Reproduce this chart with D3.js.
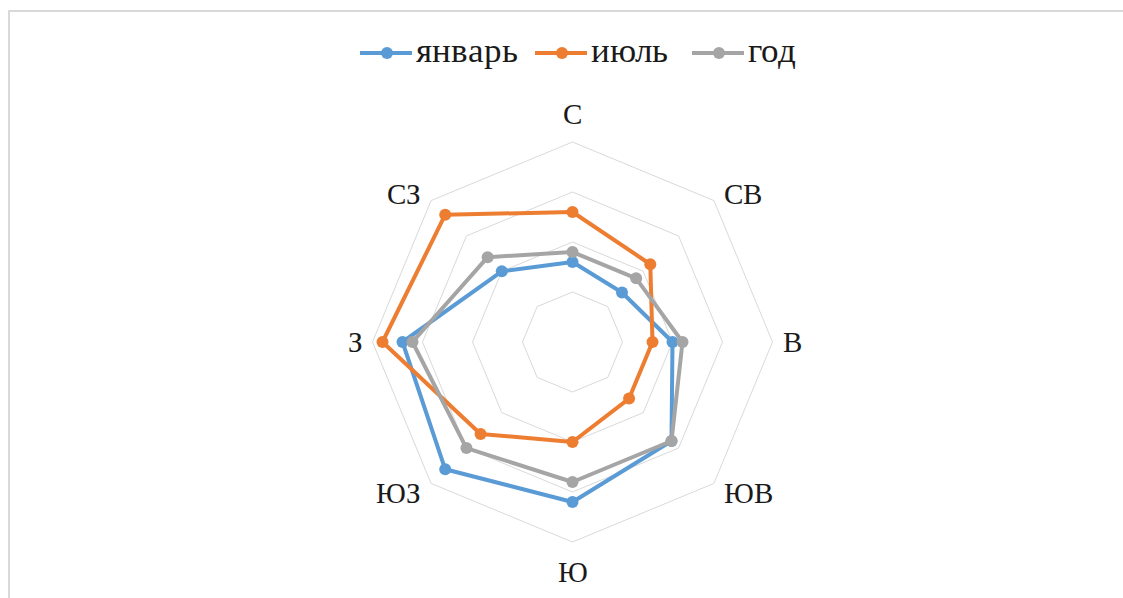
<!DOCTYPE html>
<html>
<head>
<meta charset="utf-8">
<script src="https://cdn.jsdelivr.net/npm/d3@7"></script>
<style>
  @font-face {
    font-family: "WindSerif";
    src: local("Liberation Serif"), local("LiberationSerif"), local("LiberationSerif-Regular"), local("Tinos"), local("Times New Roman");
  }
  html, body { margin: 0; padding: 0; background: #fff; }
  svg { display: block; }
  .lbl { font-family: "WindSerif", "Liberation Serif", Tinos, "Times New Roman", serif !important; }
</style>
</head>
<body>
<svg id="windrose" width="1123" height="598"></svg>
<script>
// Wind directions (clockwise from north)
const directions = ["С", "СВ", "В", "ЮВ", "Ю", "ЮЗ", "З", "СЗ"];
// Frequency of wind directions, %
const january = [8, 7, 10, 14, 16, 18, 17, 10];
const july    = [13, 11, 8, 8, 10, 13, 19, 18];
const year    = [9, 9, 11, 14, 14, 15, 16, 12];
const seriesNames = ["январь", "июль", "год"];
const seriesColors = ["#5B9BD5", "#ED7D31", "#A5A5A5"];
const gridTicks = [5, 10, 15, 20];

const W = 1123, H = 598;
const cx = 572.5, cy = 342;
const R = 200;
const FONT = "WindSerif, 'Liberation Serif', Tinos, 'Times New Roman', serif";

const svg = d3.select("#windrose");

// Chart area frame
svg.append("rect")
  .attr("x", 9).attr("y", 11)
  .attr("width", W + 10).attr("height", H + 10)
  .attr("fill", "none")
  .attr("stroke", "#d9d9d9")
  .attr("stroke-width", 2);

const r = d3.scaleLinear().domain([0, 20]).range([0, R]);
const angle = d3.scalePoint().domain(directions).range([0, 2 * Math.PI * (directions.length - 1) / directions.length]);

const g = svg.append("g").attr("transform", `translate(${cx},${cy})`);

// Octagonal grid rings
const ringLine = d3.lineRadial().angle(d => angle(d.dir)).radius(d => r(d.v)).curve(d3.curveLinearClosed);
g.append("g").selectAll("path")
  .data(gridTicks)
  .join("path")
  .attr("d", t => ringLine(directions.map(dir => ({ dir, v: t }))))
  .attr("fill", "none")
  .attr("stroke", "#d9d9d9")
  .attr("stroke-width", 1);

// Direction labels, placed just outside the outer ring vertices
function labelPos(d) {
  const a = angle(d);
  const vx = Math.sin(a) * R, vy = -Math.cos(a) * R;
  const sx = Math.round(Math.sin(a) * 1000) / 1000, sy = Math.round(-Math.cos(a) * 1000) / 1000;
  let x = vx, y = vy, anchor = "middle";
  if (sx > 0) { anchor = "start"; x = vx + 10; }
  else if (sx < 0) { anchor = "end"; x = vx - 10; }
  if (sy < 0) y = vy - (sx === 0 ? 28.5 : 7);
  else if (sy > 0) y = vy + (sx === 0 ? 30 : 10);
  return { x, y, anchor };
}
g.append("g").selectAll("text")
  .data(directions)
  .join("text")
  .attr("class", "lbl")
  .each(function(d) {
    const p = labelPos(d);
    d3.select(this).attr("x", p.x).attr("y", p.y).attr("text-anchor", p.anchor);
  })
  .attr("dominant-baseline", "central")
  .attr("font-family", FONT)
  .attr("font-size", 29)
  .attr("fill", "#1a1a1a")
  .text(d => d);

// Series
const seriesData = [january, july, year];
const line = d3.lineRadial().angle((d, i) => angle(directions[i])).radius(d => r(d)).curve(d3.curveLinearClosed);

seriesData.forEach((vals, si) => {
  const sg = g.append("g");
  sg.append("path")
    .attr("d", line(vals))
    .attr("fill", "none")
    .attr("stroke", seriesColors[si])
    .attr("stroke-width", 4)
    .attr("stroke-linejoin", "round");
  sg.selectAll("circle")
    .data(vals)
    .join("circle")
    .attr("cx", (d, i) => Math.sin(angle(directions[i])) * r(d))
    .attr("cy", (d, i) => -Math.cos(angle(directions[i])) * r(d))
    .attr("r", 6)
    .attr("fill", seriesColors[si]);
});

// Legend
const legendX = [360, 535, 692];
const lg = svg.append("g");
seriesNames.forEach((name, i) => {
  const item = lg.append("g").attr("transform", `translate(${legendX[i]},53)`);
  item.append("line").attr("x1", 0).attr("x2", 52).attr("y1", 0).attr("y2", 0)
    .attr("stroke", seriesColors[i]).attr("stroke-width", 4);
  item.append("circle").attr("cx", 27).attr("cy", 0).attr("r", 6).attr("fill", seriesColors[i]);
  item.append("text").attr("class", "lbl").attr("x", 56).attr("y", 9)
    .attr("font-family", FONT)
    .attr("font-size", 35)
    .attr("fill", "#1a1a1a")
    .text(name);
});
</script>
</body>
</html>
